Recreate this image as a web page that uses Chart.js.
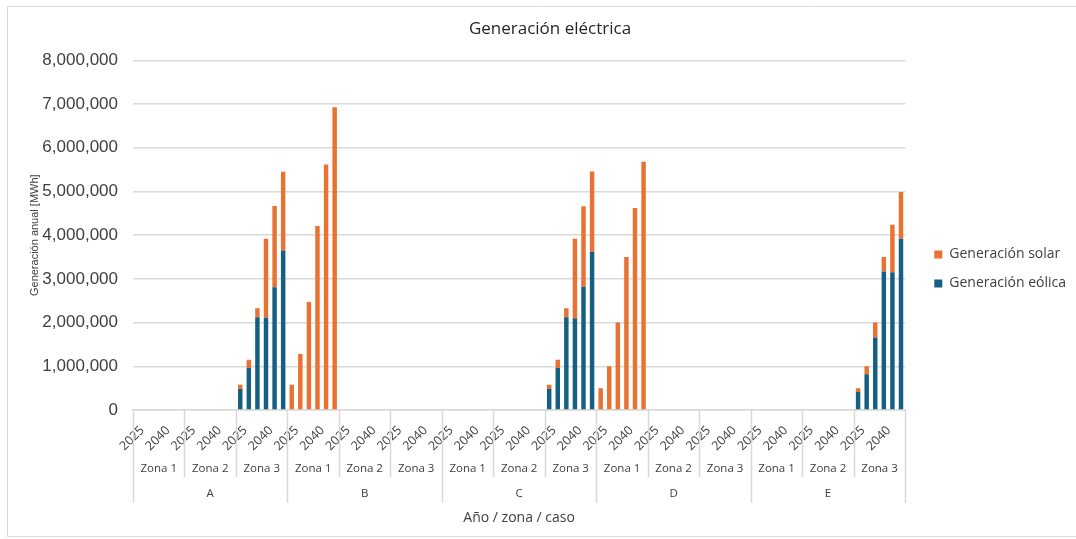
<!DOCTYPE html>
<html>
<head>
<meta charset="utf-8">
<script src="https://cdn.jsdelivr.net/npm/chart.js@4.4.1/dist/chart.umd.min.js"></script>
<style>
	html, body { margin: 0; padding: 0; background: #ffffff; }
	#wrap { width: 1076px; height: 539px; position: relative; }
</style>
</head>
<body>
<div id="wrap"><canvas id="chart-generacion"></canvas></div>
<script>
const YEARS = ["2025", "2030", "2035", "2040", "2045", "2050"];
const ZONAS = ["Zona 1", "Zona 2", "Zona 3"];
const CASOS = ["A", "B", "C", "D", "E"];
const Y_TICKS = [0, 1000000, 2000000, 3000000, 4000000, 5000000, 6000000, 7000000, 8000000];

const CERO = [0, 0, 0, 0, 0, 0];

// Generación eólica [MWh] by caso / zona
const EOLICA_A3 = [480000, 960000, 2120000, 2110000, 2810000, 3650000];
const EOLICA_C3 = [480000, 960000, 2120000, 2100000, 2820000, 3620000];
const EOLICA_E3 = [410000, 820000, 1660000, 3170000, 3150000, 3920000];

// Generación solar [MWh] by caso / zona
const SOLAR_A3 = [100000, 190000, 210000, 1810000, 1860000, 1800000];
const SOLAR_B1 = [580000, 1280000, 2470000, 4210000, 5620000, 6930000];
const SOLAR_C3 = [100000, 190000, 210000, 1820000, 1840000, 1840000];
const SOLAR_D1 = [500000, 1000000, 2000000, 3500000, 4620000, 5680000];
const SOLAR_E3 = [90000, 180000, 340000, 330000, 1090000, 1070000];

const EOLICA = {
	A: [CERO, CERO, EOLICA_A3],
	B: [CERO, CERO, CERO],
	C: [CERO, CERO, EOLICA_C3],
	D: [CERO, CERO, CERO],
	E: [CERO, CERO, EOLICA_E3],
};
const SOLAR = {
	A: [CERO, CERO, SOLAR_A3],
	B: [SOLAR_B1, CERO, CERO],
	C: [CERO, CERO, SOLAR_C3],
	D: [SOLAR_D1, CERO, CERO],
	E: [CERO, CERO, SOLAR_E3],
};

const COLORS = {
	EOLICA: "#156082",
	SOLAR: "#E97132",
	GRID: "#d9d9d9",
	TEXT: "#404040",
};
const LABEL_FONT = "Open Sans";

// flatten to one category per caso / zona / año
const labels = [];
const eolicaData = [];
const solarData = [];
CASOS.forEach((caso) => {
	ZONAS.forEach((zona, z) => {
		YEARS.forEach((year, y) => {
			labels.push(year);
			eolicaData.push(EOLICA[caso][z][y]);
			solarData.push(SOLAR[caso][z][y]);
		});
	});
});

const PER_ZONA = YEARS.length;
const PER_CASO = YEARS.length * ZONAS.length;

// zone / case labels and separators under the year ticks
const multiLevelAxis = {
	id: "multiLevelAxis",
	beforeDraw(chart) {
		const { ctx } = chart;
		ctx.save();
		ctx.strokeStyle = COLORS.GRID;
		ctx.lineWidth = 1;
		ctx.beginPath();
		ctx.moveTo(1100, 6.5);
		ctx.lineTo(7.5, 6.5);
		ctx.lineTo(7.5, 536.5);
		ctx.lineTo(1100, 536.5);
		ctx.stroke();
		ctx.restore();
	},
	afterDraw(chart) {
		const { ctx, chartArea } = chart;
		const xs = chart.scales.x;
		const step = xs.getPixelForValue(1) - xs.getPixelForValue(0);
		const edge = (i) => xs.getPixelForValue(i) - step / 2;
		const base = chartArea.bottom;

		ctx.save();
		ctx.strokeStyle = COLORS.GRID;
		ctx.lineWidth = 1.5;
		const nZonas = CASOS.length * ZONAS.length;
		for (let k = 0; k <= nZonas; k++) {
			const x = Math.round(edge(k * PER_ZONA)) + 0.5;
			const isCaso = k % ZONAS.length === 0;
			ctx.beginPath();
			ctx.moveTo(x, base);
			ctx.lineTo(x, base + (isCaso ? 93 : 67));
			ctx.stroke();
		}

		ctx.fillStyle = COLORS.TEXT;
		ctx.textAlign = "center";
		ctx.textBaseline = "middle";
		ctx.font = `11.5px "${LABEL_FONT}"`;
		CASOS.forEach((caso, c) => {
			ZONAS.forEach((zona, z) => {
				const start = c * PER_CASO + z * PER_ZONA;
				const mid = (edge(start) + edge(start + PER_ZONA)) / 2;
				ctx.fillText(zona, mid, base + 59);
			});
			const mid = (edge(c * PER_CASO) + edge((c + 1) * PER_CASO)) / 2;
			ctx.fillText(caso, mid, base + 84);
		});
		ctx.restore();
	},
};

const DATA = {
	labels: labels,
	datasets: [
		{
			label: "Generación eólica",
			data: eolicaData,
			backgroundColor: COLORS.EOLICA,
			barPercentage: 1,
			categoryPercentage: 0.52,
		},
		{
			label: "Generación solar",
			data: solarData,
			backgroundColor: COLORS.SOLAR,
			barPercentage: 1,
			categoryPercentage: 0.52,
		},
	],
};

// Chart config
const CONFIG = {
	type: "bar",
	data: DATA,
	options: {
		responsive: false,
		animation: false,
		devicePixelRatio: 1,
		layout: {
			padding: { top: 8, left: 24, right: 0, bottom: 9 },
		},
		plugins: {
			title: {
				display: true,
				text: "Generación eléctrica",
				color: "#262626",
				font: { family: LABEL_FONT, size: 17, weight: "normal" },
				padding: { top: 11, bottom: 21 },
			},
			legend: {
				position: "right",
				reverse: true,
				labels: {
					color: COLORS.TEXT,
					boxWidth: 8,
					boxHeight: 8,
					padding: 15,
					font: { family: LABEL_FONT, size: 14 },
				},
			},
			tooltip: { enabled: false },
		},
		scales: {
			x: {
				stacked: true,
				grid: { display: false, drawTicks: false },
				border: { color: COLORS.GRID, width: 1.5 },
				ticks: {
					autoSkip: false,
					minRotation: 45,
					maxRotation: 45,
					padding: 13,
					labelOffset: 5,
					color: COLORS.TEXT,
					font: { family: LABEL_FONT, size: 12.5 },
					callback: (value, index) => (index % 3 === 0 ? labels[index] : ""),
				},
				title: {
					display: true,
					text: "Año / zona / caso",
					color: COLORS.TEXT,
					font: { family: LABEL_FONT, size: 14 },
					padding: { top: 4, bottom: 4 },
				},
				afterFit: (scale) => {
					scale.height = 120;
				},
			},
			y: {
				stacked: true,
				min: 0,
				max: 8000000,
				grid: { color: COLORS.GRID, lineWidth: 1.5, drawTicks: false },
				border: { display: false },
				afterBuildTicks: (scale) => {
					scale.ticks = Y_TICKS.map((v) => ({ value: v }));
				},
				ticks: {
					padding: 15,
					color: COLORS.TEXT,
					font: { family: "Liberation Sans", size: 17 },
					callback: (value) => value.toLocaleString("en-US"),
				},
				title: {
					display: true,
					text: "Generación anual [MWh]",
					color: COLORS.TEXT,
					font: { family: "Liberation Sans", size: 11 },
					padding: { top: 4, bottom: 4 },
				},
				afterFit: (scale) => {
					scale.width = 109;
				},
			},
			// empty spacer between plot and legend
			gap: {
				position: "right",
				grid: { display: false },
				border: { display: false },
				ticks: { display: false },
				afterFit: (scale) => {
					scale.width = 14;
				},
			},
		},
	},
	plugins: [multiLevelAxis],
};

// Init chart
const WRAPPER = document.getElementById("chart-generacion");
WRAPPER.width = 1076;
WRAPPER.height = 539;
if (WRAPPER) {
	new Chart(WRAPPER, CONFIG);
}
</script>
</body>
</html>
